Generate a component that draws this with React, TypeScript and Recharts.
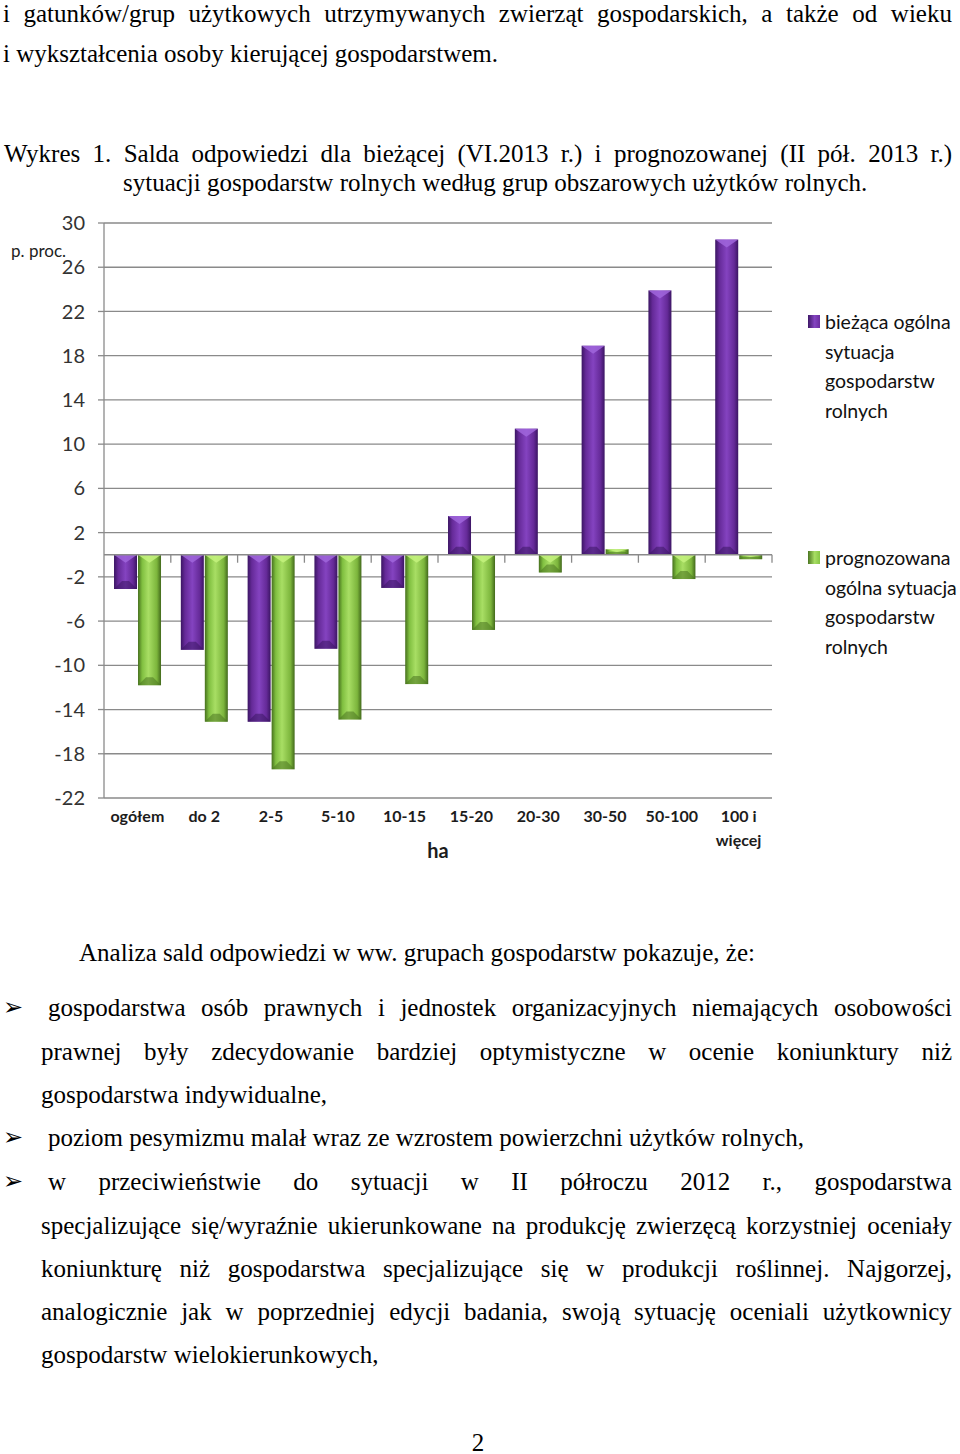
import React from 'react';
import { BarChart, Bar, XAxis, YAxis, CartesianGrid, ReferenceLine } from 'recharts';

const categories = ['ogółem', 'do 2', '2-5', '5-10', '10-15', '15-20', '20-30', '30-50', '50-100', '100 i\nwięcej'];
const currentBalance = [-3.1, -8.6, -15.1, -8.5, -3.0, 3.5, 11.4, 18.9, 23.9, 28.5];
const forecastBalance = [-11.8, -15.1, -19.4, -14.9, -11.7, -6.8, -1.6, 0.5, -2.2, -0.4];
const yTicks = [-22, -18, -14, -10, -6, -2, 2, 6, 10, 14, 18, 22, 26, 30];
const seriesNames = [
  'bieżąca ogólna\nsytuacja\ngospodarstw\nrolnych',
  'prognozowana\nogólna sytuacja\ngospodarstw\nrolnych',
];
const yUnit = 'p. proc.';
const xTitle = 'ha';

const data = categories.map((c, i) => ({ cat: c, current: currentBalance[i], forecast: forecastBalance[i] }));

const palette: Record<string, { light: string; dark: string; edge: string; mid: string; hi: string }> = {
  p: { light: '#a066dc', dark: '#3a1562', edge: '#3f1868', mid: '#6a2c9e', hi: '#8444c0' },
  g: { light: '#c4f27e', dark: '#4a7420', edge: '#4b7621', mid: '#86c545', hi: '#a8de64' },
};

const makeShape = (k: string) => (props: any) => {
  const { x, y, width, height } = props;
  if (x == null || y == null || !width || !height) return <g />;
  const top = Math.min(y, y + height);
  const h = Math.abs(height);
  const w = width;
  const b = Math.min(8, h / 2);
  const c = palette[k];
  return (
    <g>
      <rect x={x} y={top} width={w} height={h} fill={`url(#grad-${k})`} />
      <polygon points={`${x},${top} ${x + w},${top} ${x + w / 2},${top + b}`} fill={c.light} opacity={0.85} />
      <polygon
        points={`${x},${top + h} ${x + w},${top + h} ${x + w - b},${top + h - b} ${x + b},${top + h - b}`}
        fill={c.dark}
        opacity={0.55}
      />
    </g>
  );
};

const XTick = (props: any) => {
  const { x, y, payload } = props;
  const lines = String(payload.value).split('\n');
  return (
    <text x={x} y={y} textAnchor="middle" fontFamily="Lato" fontWeight={700} fontSize={16} fill="#1c1c1c">
      {lines.map((l, i) => (
        <tspan key={i} x={x} dy={24}>
          {l}
        </tspan>
      ))}
    </text>
  );
};

const ZeroAxis = (props: any) => {
  const { x1, y1, x2, y2 } = props;
  if (x1 == null) return <g />;
  const n = categories.length;
  const step = (x2 - x1) / n;
  const marks = [];
  for (let i = 1; i <= n; i++) {
    marks.push(
      <line key={i} x1={x1 + i * step} x2={x1 + i * step} y1={y1} y2={y1 + 8} stroke="#8a8a8a" strokeWidth={1.3} />
    );
  }
  return (
    <g>
      <line x1={x1} y1={y1} x2={x2} y2={y2} stroke="#8a8a8a" strokeWidth={1.3} />
      {marks}
    </g>
  );
};

const serif = '"Liberation Serif", "Times New Roman", serif';

const Line = ({ base, left, right, justify, children }: any) => {
  const style: React.CSSProperties = {
    position: 'absolute',
    top: base - 18.5,
    left,
    lineHeight: '20px',
    fontSize: 25,
    fontFamily: serif,
    color: '#000',
    whiteSpace: 'nowrap',
  };
  if (justify) {
    const words = String(children).split(' ');
    return (
      <div style={{ ...style, width: right - left, display: 'flex', justifyContent: 'space-between' }}>
        {words.map((w, i) => (
          <span key={i}>{w}</span>
        ))}
      </div>
    );
  }
  return <div style={style}>{children}</div>;
};

const Bullet = ({ base }: any) => (
  <div
    style={{
      position: 'absolute',
      top: base - 24,
      left: 3,
      lineHeight: '30px',
      fontSize: 24,
      fontFamily: '"DejaVu Sans", sans-serif',
      color: '#000',
    }}
  >
    ➢
  </div>
);

const LegendBlock = ({ top, k, text }: any) => (
  <div style={{ position: 'absolute', left: 808, top, width: 152 }}>
    <div
      style={{
        position: 'absolute',
        left: 0,
        top: 8,
        width: 12,
        height: 13,
        background: `linear-gradient(90deg, ${palette[k].edge}, ${palette[k].hi} 55%, ${palette[k].mid})`,
      }}
    />
    <div
      style={{
        position: 'absolute',
        left: 17,
        top: 0,
        fontFamily: 'Lato',
        fontSize: 19.5,
        lineHeight: '29.7px',
        color: '#111',
        whiteSpace: 'pre',
      }}
    >
      {text}
    </div>
  </div>
);

export default function App() {
  return (
    <div style={{ position: 'absolute', left: 0, top: 0, width: 960, height: 1454, background: '#fff', overflow: 'hidden' }}>
      <Line base={22} left={3} right={952} justify>
        i gatunków/grup użytkowych utrzymywanych zwierząt gospodarskich, a także od wieku
      </Line>
      <Line base={62} left={3}>
        i wykształcenia osoby kierującej gospodarstwem.
      </Line>
      <Line base={162} left={4} right={952} justify>
        Wykres 1. Salda odpowiedzi dla bieżącej (VI.2013 r.) i prognozowanej (II pół. 2013 r.)
      </Line>
      <Line base={191} left={123}>
        sytuacji gospodarstw rolnych według grup obszarowych użytków rolnych.
      </Line>

      <div style={{ position: 'absolute', left: 0, top: 200, width: 960, height: 680 }}>
        <BarChart
          width={960}
          height={680}
          data={data}
          margin={{ top: 23, right: 188, bottom: 22, left: 0 }}
          barCategoryGap="15%"
          barGap={1}
        >
          <defs>
            <linearGradient id="grad-p" x1="0" y1="0" x2="1" y2="0">
              <stop offset="0%" stopColor="#3b1563" />
              <stop offset="18%" stopColor="#652a98" />
              <stop offset="50%" stopColor="#8443c0" />
              <stop offset="82%" stopColor="#652a98" />
              <stop offset="100%" stopColor="#3b1563" />
            </linearGradient>
            <linearGradient id="grad-g" x1="0" y1="0" x2="1" y2="0">
              <stop offset="0%" stopColor="#46701d" />
              <stop offset="18%" stopColor="#80bf40" />
              <stop offset="45%" stopColor="#a8de64" />
              <stop offset="82%" stopColor="#7cb53c" />
              <stop offset="100%" stopColor="#42691b" />
            </linearGradient>
          </defs>
          <CartesianGrid horizontal vertical={false} stroke="#8a8a8a" strokeWidth={1.3} />
          <XAxis
            dataKey="cat"
            interval={0}
            axisLine={false}
            tickLine={false}
            tickSize={0}
            tickMargin={0}
            height={60}
            tick={<XTick />}
          />
          <YAxis
            type="number"
            domain={[-22, 30]}
            ticks={yTicks}
            interval={0}
            width={104}
            tickSize={6}
            tickMargin={13}
            axisLine={{ stroke: '#8a8a8a', strokeWidth: 1.3 }}
            tickLine={{ stroke: '#8a8a8a', strokeWidth: 1.3 }}
            tick={{ fontFamily: 'Lato', fontSize: 20, fill: '#333' }}
          />
          <Bar dataKey="current" name={seriesNames[0]} isAnimationActive={false} shape={makeShape('p')} />
          <Bar dataKey="forecast" name={seriesNames[1]} isAnimationActive={false} shape={makeShape('g')} />
          <ReferenceLine y={0} shape={(p: any) => <ZeroAxis {...p} />} />
        </BarChart>
      </div>

      <div
        style={{
          position: 'absolute',
          left: 11,
          top: 240,
          fontFamily: 'Lato',
          fontSize: 17,
          lineHeight: '22px',
          color: '#222',
          whiteSpace: 'nowrap',
        }}
      >
        {yUnit}
      </div>
      <div
        style={{
          position: 'absolute',
          left: 418,
          width: 40,
          textAlign: 'center',
          top: 837,
          fontFamily: 'Lato',
          fontWeight: 700,
          fontSize: 20,
          lineHeight: '26px',
          color: '#1c1c1c',
        }}
      >
        {xTitle}
      </div>
      <LegendBlock top={307} k="p" text={seriesNames[0]} />
      <LegendBlock top={543} k="g" text={seriesNames[1]} />

      <Line base={961} left={79}>
        Analiza sald odpowiedzi w ww. grupach gospodarstw pokazuje, że:
      </Line>
      <Bullet base={1016} />
      <Line base={1016} left={48} right={952} justify>
        gospodarstwa osób prawnych i jednostek organizacyjnych niemających osobowości
      </Line>
      <Line base={1060} left={41} right={952} justify>
        prawnej były zdecydowanie bardziej optymistyczne w ocenie koniunktury niż
      </Line>
      <Line base={1103} left={41}>
        gospodarstwa indywidualne,
      </Line>
      <Bullet base={1146} />
      <Line base={1146} left={48}>
        poziom pesymizmu malał wraz ze wzrostem powierzchni użytków rolnych,
      </Line>
      <Bullet base={1190} />
      <Line base={1190} left={48} right={952} justify>
        w przeciwieństwie do sytuacji w II półroczu 2012 r., gospodarstwa
      </Line>
      <Line base={1234} left={41} right={952} justify>
        specjalizujące się/wyraźnie ukierunkowane na produkcję zwierzęcą korzystniej oceniały
      </Line>
      <Line base={1277} left={41} right={952} justify>
        koniunkturę niż gospodarstwa specjalizujące się w produkcji roślinnej. Najgorzej,
      </Line>
      <Line base={1320} left={41} right={952} justify>
        analogicznie jak w poprzedniej edycji badania, swoją sytuację oceniali użytkownicy
      </Line>
      <Line base={1363} left={41}>
        gospodarstw wielokierunkowych,
      </Line>
      <div
        style={{
          position: 'absolute',
          left: 468,
          width: 20,
          textAlign: 'center',
          top: 1451 - 18.5,
          lineHeight: '20px',
          fontSize: 25,
          fontFamily: serif,
        }}
      >
        2
      </div>
    </div>
  );
}
